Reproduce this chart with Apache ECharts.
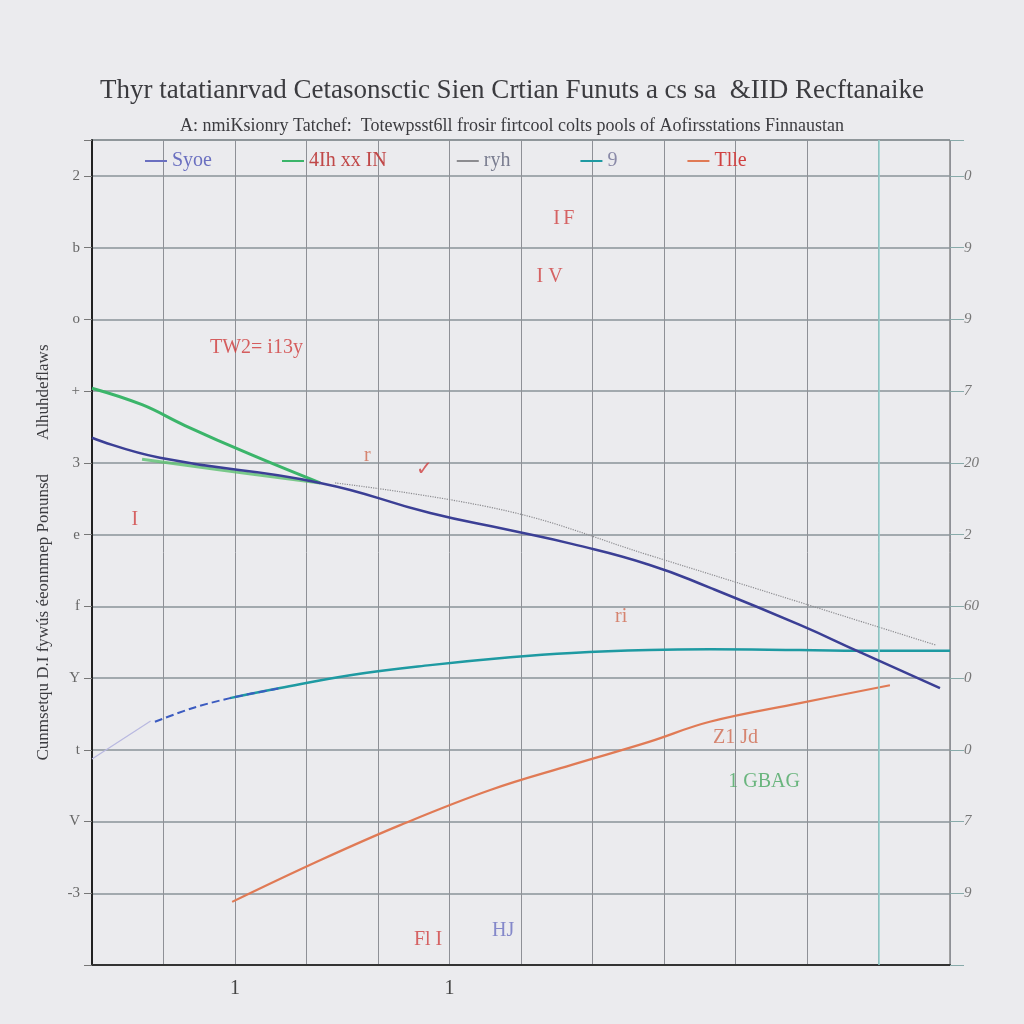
<!DOCTYPE html>
<html><head><meta charset="utf-8">
<script src="https://cdn.jsdelivr.net/npm/echarts@6/dist/echarts.min.js"></script>
<style>html,body{margin:0;padding:0;background:#ebebee}#c{width:1024px;height:1024px}</style>
</head><body><div id="c"></div>
<script>
// ---- data ----
const titleText = 'Thyr tatatianrvad Cetasonsctic Sien Crtian Funuts a cs sa  &IID Recftanaike';
const subtitleText = 'A: nmiKsionry Tatchef:  Totewpsst6ll frosir firtcool colts pools of Aofirsstations Finnaustan';
const yAxisName = 'Cunmsetqu D.I fywús éeonnmep Ponunsd        Alhuhdeflaws';
const xTickLabels = ['', '', '1', '', '', '1', '', '', '', '', '', '', ''];
const leftTickLabels = ['', '-3', 'V', 't', 'Y', 'f', 'e', '3', '+', 'o', 'b', '2'];
const rightTickLabels = ['', '9', '7', '0', '0', '60', '2', '20', '7', '9', '9', '0'];

const navyName = 'Syoe';
const navyData = [[0,7.35],[0.95,7.07],[3.19,6.72],[4.73,6.3],[5.85,6.06],[6.71,5.87],[7.79,5.58],[8.64,5.26],[9.9,4.74],[10.74,4.36],[11.86,3.86]];
const greenName = '4Ih xx IN';
const greenData = [[0,8.04],[0.7,7.81],[1.3,7.52],[2.21,7.12],[3.19,6.72]];
const greenLowData = [[0.7,7.05],[1.8,6.9],[3.19,6.72]];
const grayName = 'ryh';
const grayData = [[3.4,6.72],[5.8,6.33],[7.8,5.71],[9.6,5.15],[11.8,4.46]];
const tealName = '9';
const tealData = [[1.93,3.72],[2.63,3.86],[3.61,4.04],[4.73,4.18],[5.85,4.29],[6.71,4.35],[7.79,4.39],[8.64,4.40],[9.9,4.39],[11.02,4.38],[12,4.38]];
const dashName = 'r';
const dashData = [[0.88,3.39],[1.4,3.58],[1.93,3.72],[2.63,3.86]];
const lavName = 'v';
const lavData = [[0,2.87],[0.82,3.4]];
const orangeName = 'Tlle';
const orangeData = [[1.96,0.88],[3.19,1.46],[4.31,1.95],[5.57,2.44],[6.71,2.79],[7.79,3.11],[8.64,3.39],[9.9,3.65],[11.16,3.9]];
const notes = [
  [2.3,8.6,'TW2= i13y','#d03a3a'],
  [6.6,10.4,'I\u2006F','#d04040'],
  [6.4,9.6,'I V','#d04040'],
  [9.0,3.17,'Z1 Jd','#d06a50'],
  [9.4,2.55,'1 GBAG','#4aa862'],
  [4.7,0.35,'Fl I','#d04040'],
  [5.75,0.48,'HJ','#6a6fc0'],
  [3.85,7.1,'r','#d06a50'],
  [4.65,6.9,'\u2713','#d04040'],
  [0.6,6.2,'I','#d04040'],
  [7.4,4.85,'ri','#d06a50']
];

const chart = echarts.init(document.getElementById('c'));
const font = 'Liberation Serif';
chart.setOption({
  backgroundColor: '#ebebee',
  animation: false,
  title: [{
    text: titleText, left: 'center', top: 72,
    textStyle: {fontFamily: font, fontSize: 27, fontWeight: 'normal', color: '#3b3b3f'}
  }, {
    text: subtitleText, left: 'center', top: 112,
    textStyle: {fontFamily: font, fontSize: 18, fontWeight: 'normal', color: '#3b3b3f'}
  }],
  legend: {
    top: 146, left: 140, itemGap: 70, itemWidth: 22, itemHeight: 2, icon: 'rect',
    textStyle: {fontFamily: font, fontSize: 20},
    data: [
      {name: navyName, textStyle: {color: '#6a6fc0'}},
      {name: greenName, textStyle: {color: '#c04848'}},
      {name: grayName, textStyle: {color: '#7a7d90'}},
      {name: tealName, textStyle: {color: '#8a8aa8'}},
      {name: orangeName, textStyle: {color: '#d04040'}}
    ]
  },
  grid: {left: 92, right: 74, top: 140, bottom: 59, show: true, borderColor: '#555', borderWidth: 1, backgroundColor: 'transparent'},
  xAxis: {
    type: 'value', min: 0, max: 12, interval: 1,
    axisLine: {show: true, lineStyle: {color: '#333', width: 2}},
    axisTick: {show: false},
    splitLine: {show: true, lineStyle: {color: '#8e9096', width: 1}},
    axisLabel: {fontFamily: font, fontSize: 20, color: '#444', margin: 14,
      formatter: v => xTickLabels[Math.round(v)] || ''}
  },
  yAxis: [{
    type: 'value', min: 0, max: 11.5, interval: 1,
    name: yAxisName, nameLocation: 'middle', nameGap: 40, nameRotate: 90,
    nameTextStyle: {fontFamily: font, fontSize: 17, color: '#3b3b3f'},
    axisLine: {show: true, lineStyle: {color: '#222', width: 2}},
    axisTick: {show: true, length: 8, lineStyle: {color: '#777'}},
    splitLine: {show: true, lineStyle: {color: '#8a9398', width: 1.5}},
    axisLabel: {fontFamily: font, fontSize: 15, color: '#666', margin: 12,
      formatter: v => Number.isInteger(v) ? (leftTickLabels[v] || '') : ''}
  }, {
    type: 'value', min: 0, max: 11.5, interval: 1, position: 'right',
    axisLine: {show: false}, axisTick: {show: true, length: 14, lineStyle: {color: '#8aa'}},
    splitLine: {show: false},
    axisLabel: {fontFamily: font, fontStyle: 'italic', fontSize: 15, color: '#777', margin: 14,
      formatter: v => Number.isInteger(v) ? (rightTickLabels[v] || '') : ''}
  }],
  series: [
    {name: navyName, type: 'line', data: navyData, smooth: 0.5, symbol: 'none', z: 5,
     lineStyle: {color: '#3b3f95', width: 2.5}, itemStyle: {color: '#6a6fc0'},
     markLine: {silent: true, symbol: 'none', label: {show: false},
       lineStyle: {color: '#8fd0cc', width: 1.5, type: 'solid'}, data: [{xAxis: 11}]}},
    {name: greenName, type: 'line', data: greenData, smooth: 0.4, symbol: 'none', z: 4,
     lineStyle: {color: '#3bb56a', width: 3}, itemStyle: {color: '#3bb56a'}},
    {name: greenName, type: 'line', data: greenLowData, smooth: 0.4, symbol: 'none', z: 4,
     lineStyle: {color: '#5cc070', width: 3, opacity: 0.8}, itemStyle: {color: '#3bb56a'}},
    {name: grayName, type: 'line', data: grayData, smooth: 0.4, symbol: 'none', z: 3,
     lineStyle: {color: '#8c8c90', width: 1.2, type: 'dotted'}, itemStyle: {color: '#8c8c90'}},
    {name: tealName, type: 'line', data: tealData, smooth: 0.4, symbol: 'none', z: 4,
     lineStyle: {color: '#1e9aa2', width: 2.5}, itemStyle: {color: '#1e9aa2'}},
    {name: dashName, type: 'line', data: dashData, smooth: 0.3, symbol: 'none', z: 4,
     lineStyle: {color: '#3b5bc0', width: 2, type: 'dashed'}, itemStyle: {color: '#3b5bc0'}},
    {name: lavName, type: 'line', data: lavData, smooth: 0.3, symbol: 'none', z: 3,
     lineStyle: {color: '#b8b8e0', width: 1.2}, itemStyle: {color: '#b8b8e0'}},
    {name: orangeName, type: 'line', data: orangeData, smooth: 0.4, symbol: 'none', z: 4,
     lineStyle: {color: '#e07a55', width: 2.2}, itemStyle: {color: '#e07a55'}},
    {name: 'notes', type: 'scatter', symbolSize: 0, z: 6,
     data: notes.map(n => ({value: [n[0], n[1]], label: {show: true, formatter: n[2], color: n[3]}})),
     label: {position: 'inside', fontFamily: font, fontSize: 20}}
  ]
});
</script></body></html>
